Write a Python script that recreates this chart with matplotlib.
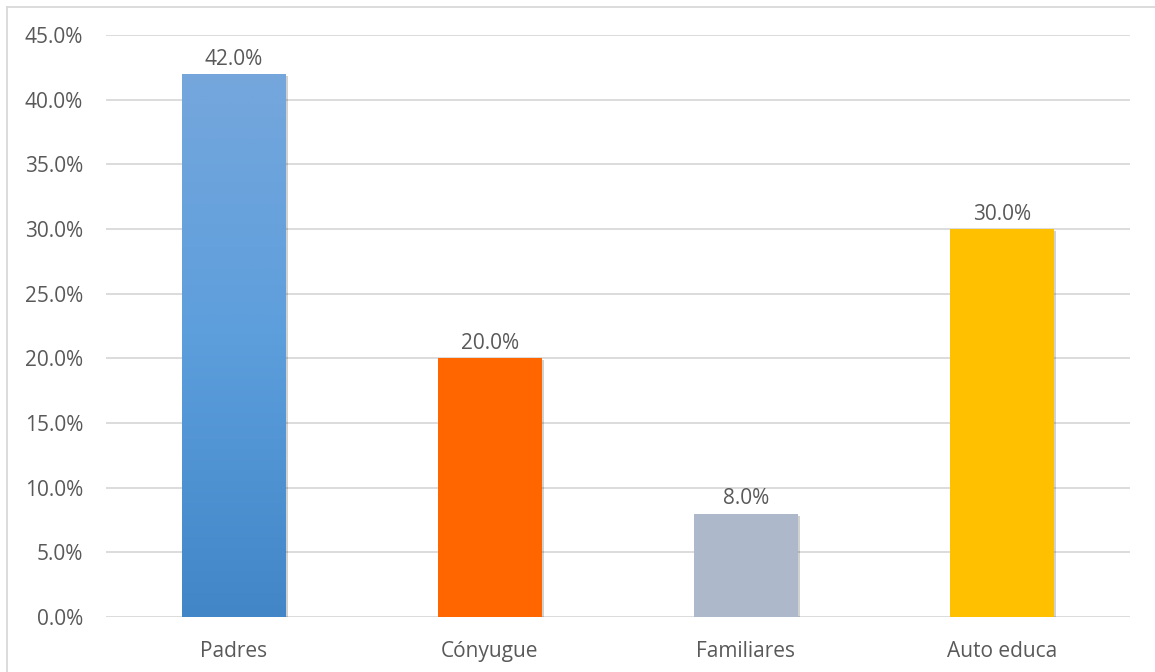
import numpy as np
import matplotlib.pyplot as plt
import matplotlib.patheffects as pe
from matplotlib.colors import LinearSegmentedColormap
from matplotlib.lines import Line2D

categories = ["Padres", "Cónyugue", "Familiares", "Auto educa"]
values = [42.0, 20.0, 8.0, 30.0]
colors = ["#5B9BD5", "#FF6600", "#ADB9CA", "#FFC000"]
yticks = [0, 5, 10, 15, 20, 25, 30, 35, 40, 45]

plt.rcParams['font.family'] = ['Open Sans', 'DejaVu Sans']
text_color = "#595959"
fs = 15

fig = plt.figure(figsize=(11.55, 6.72), dpi=100)
ax = fig.add_axes([106 / 1155, 1 - 617 / 672, 1024 / 1155, 582 / 672])

x = np.arange(len(categories))
shadow = [pe.SimplePatchShadow(offset=(1.5, -1.5), shadow_rgbFace="#000000", alpha=0.18), pe.Normal()]
bars = ax.bar(x, values, width=0.406, color=colors, zorder=3, path_effects=shadow)

# first bar gets the lighter-to-darker blue fill
grad = LinearSegmentedColormap.from_list("blue", ["#4286C8", "#5C9EDC", "#75A7DC"])
b0 = bars[0]
img = ax.imshow(np.linspace(0, 1, 256).reshape(-1, 1), cmap=grad, origin="lower", aspect="auto",
                extent=[b0.get_x(), b0.get_x() + b0.get_width(), 0, b0.get_height()], zorder=4)
img.set_clip_path(b0)

for xi, v in zip(x, values):
    ax.annotate(f"{v:.1f}%", (xi, v), xytext=(0, 3), textcoords="offset points",
                ha="center", va="bottom", fontsize=fs, color=text_color, zorder=5)

ax.set_xlim(-0.5, len(categories) - 0.5)
ax.set_ylim(0, 45)
ax.set_yticks(yticks)
ax.set_yticklabels([f"{t:.1f}%" for t in yticks])
ax.set_xticks(x)
ax.set_xticklabels(categories)
ax.tick_params(axis="both", length=0, labelsize=fs, colors=text_color)
ax.tick_params(axis="y", pad=16.5)
ax.tick_params(axis="x", pad=17)
ax.grid(axis="y", color="#D9D9D9", linewidth=1.3, zorder=0)
for s in ax.spines.values():
    s.set_visible(False)

# chart frame, top and left edges
fig.add_artist(Line2D([7 / 1155, 1], [1 - 7 / 672, 1 - 7 / 672], color="#D9D9D9", linewidth=1.3))
fig.add_artist(Line2D([7 / 1155, 7 / 1155], [0, 1 - 7 / 672], color="#D9D9D9", linewidth=1.3))

fig.savefig("out.png", dpi=100)
